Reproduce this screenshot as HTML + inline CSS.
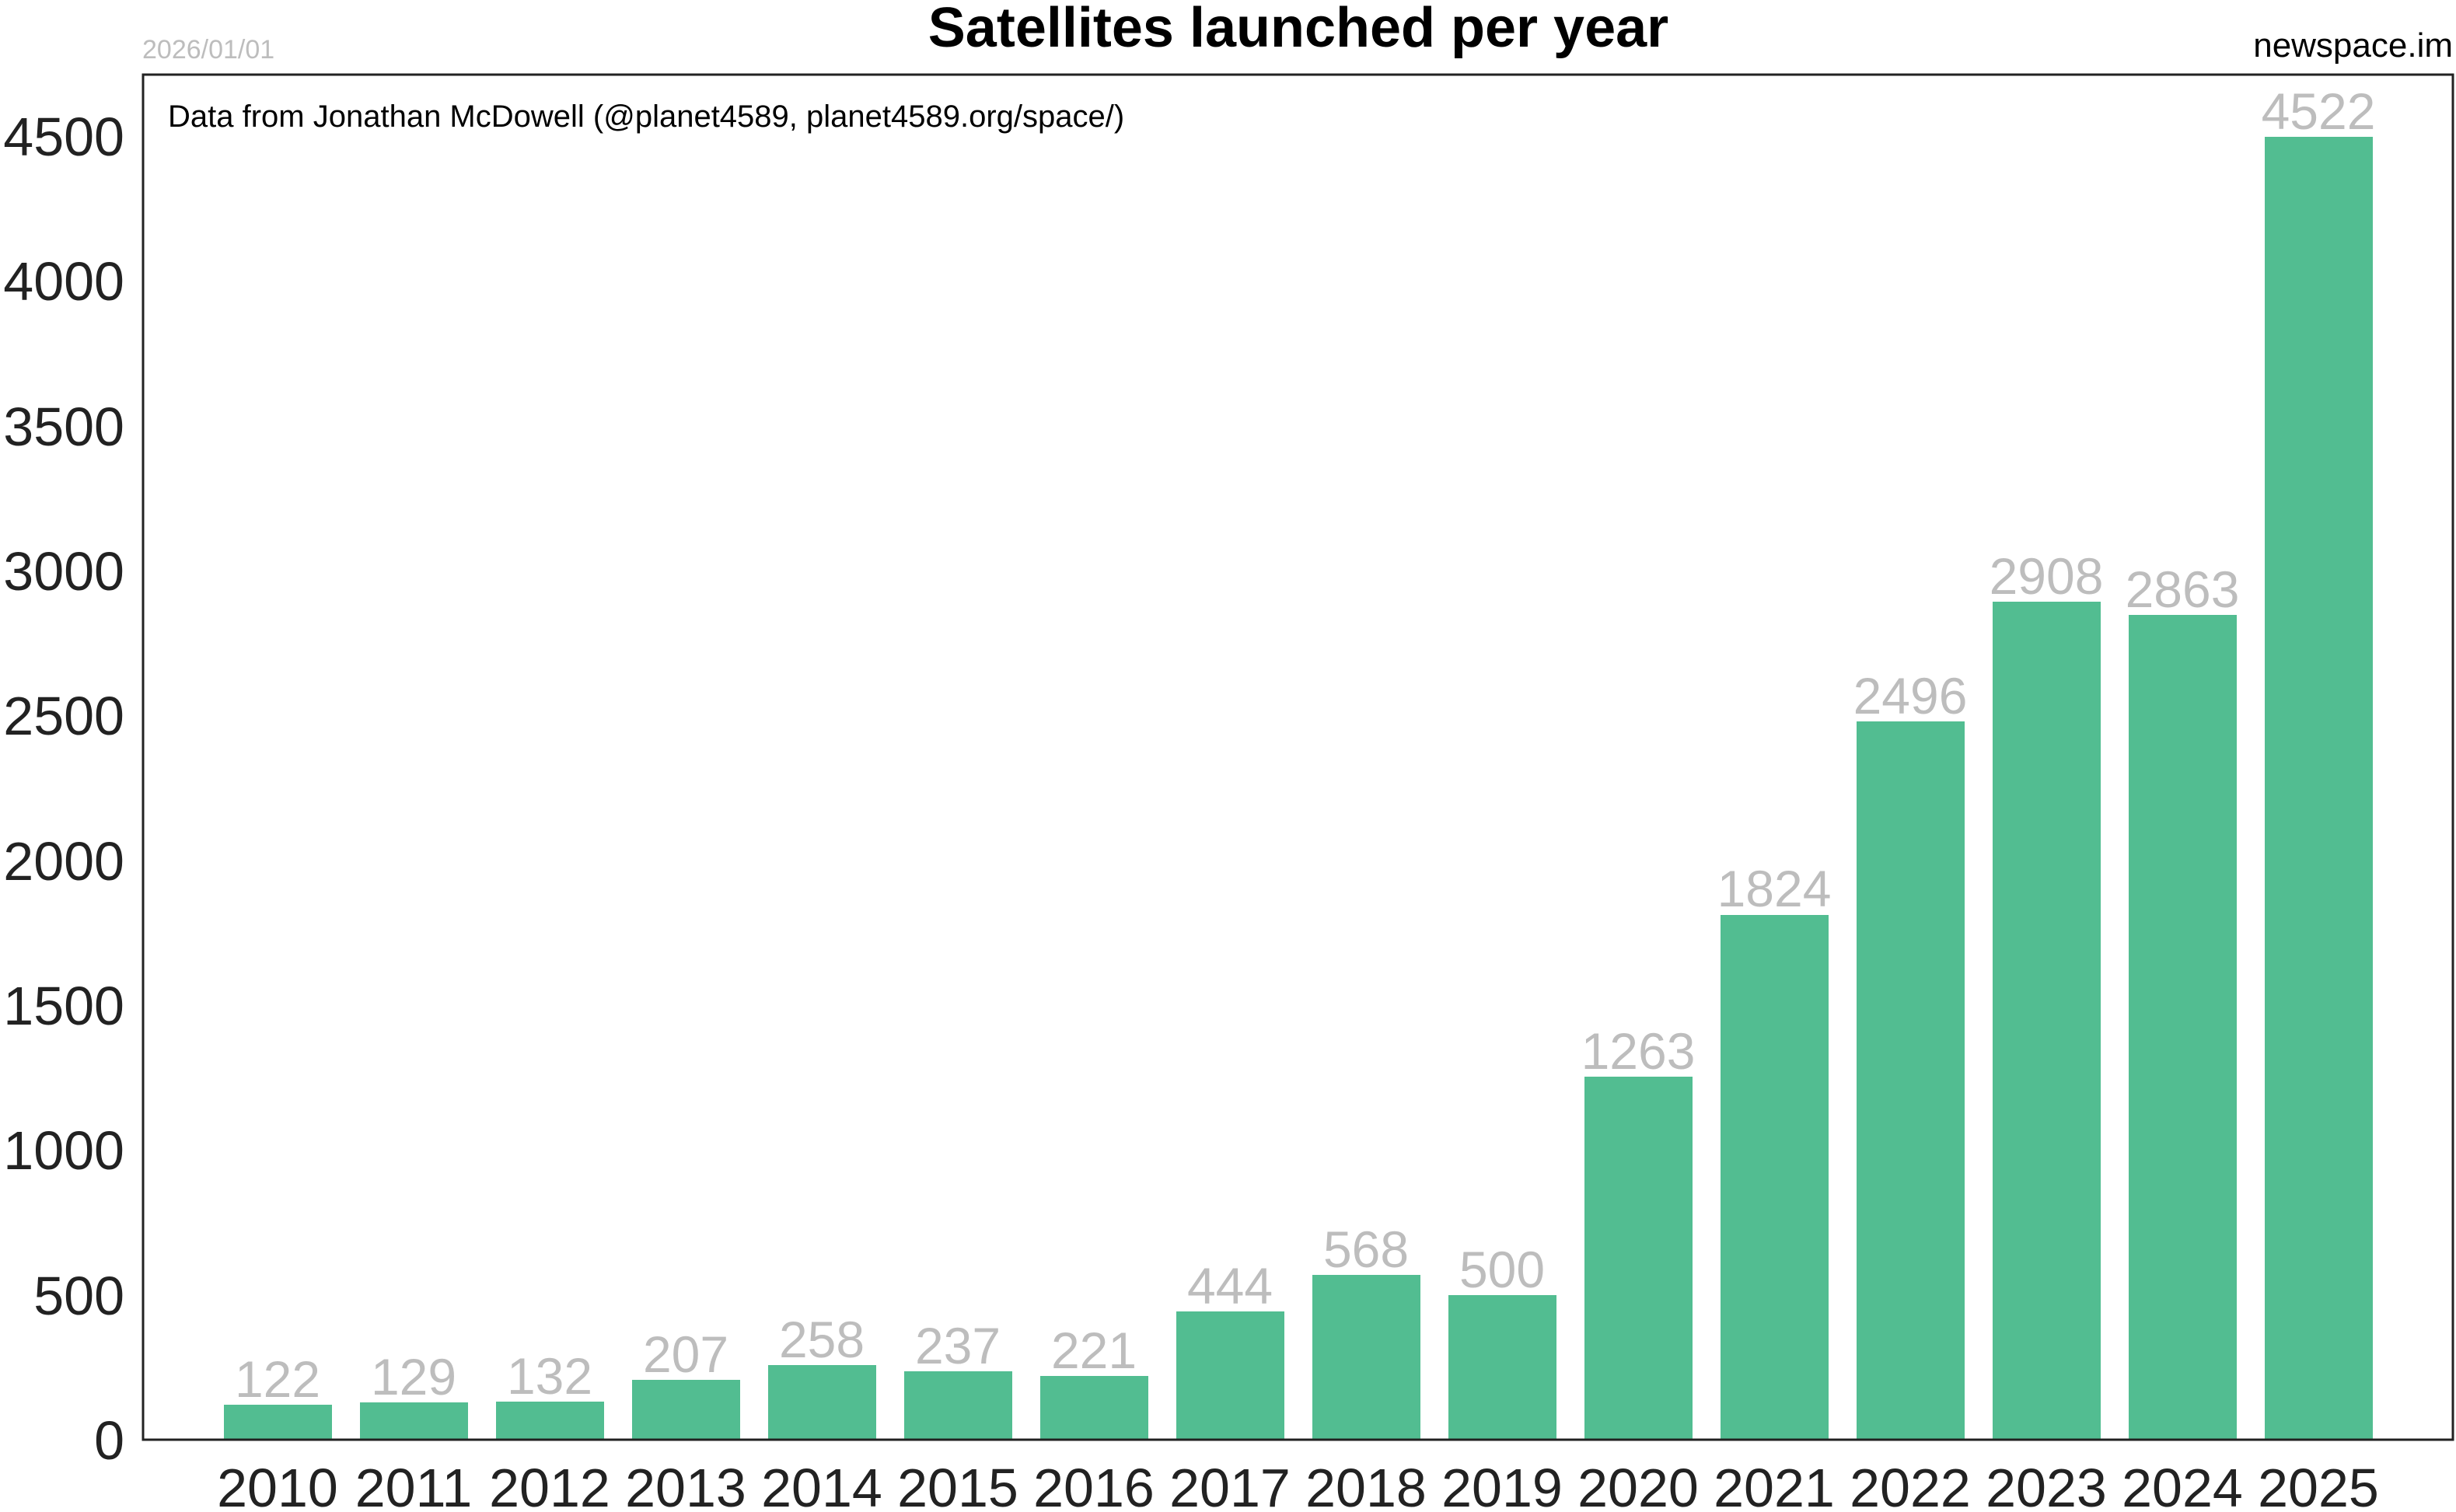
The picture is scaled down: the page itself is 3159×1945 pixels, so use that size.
<!DOCTYPE html>
<html><head><meta charset="utf-8"><style>html,body{margin:0;padding:0;background:#fff}</style></head>
<body>
<svg xmlns="http://www.w3.org/2000/svg" width="3159" height="1940" viewBox="0 0 3159 1940" font-family="'Liberation Sans', Arial, sans-serif">
<rect width="3159" height="1940" fill="#fff"/>
<text x="1670" y="60" font-size="72" font-weight="bold" text-anchor="middle" fill="#000">Satellites launched per year</text>
<text x="183" y="75" font-size="34" fill="#bdbdbd">2026/01/01</text>
<text x="3155" y="73" font-size="44" text-anchor="end" fill="#000">newspace.im</text>
<text x="216" y="163" font-size="40" fill="#000">Data from Jonathan McDowell (@planet4589, planet4589.org/space/)</text>
<g fill="#52bd91">
<rect x="288" y="1807" width="139" height="45"/>
<rect x="463" y="1804" width="139" height="48"/>
<rect x="638" y="1803" width="139" height="49"/>
<rect x="813" y="1775" width="139" height="77"/>
<rect x="988" y="1756" width="139" height="96"/>
<rect x="1163" y="1764" width="139" height="88"/>
<rect x="1338" y="1770" width="139" height="82"/>
<rect x="1513" y="1687" width="139" height="165"/>
<rect x="1688" y="1640" width="139" height="212"/>
<rect x="1863" y="1666" width="139" height="186"/>
<rect x="2038" y="1385" width="139" height="467"/>
<rect x="2213" y="1177" width="139" height="675"/>
<rect x="2388" y="928" width="139" height="924"/>
<rect x="2563" y="774" width="139" height="1078"/>
<rect x="2738" y="791" width="139" height="1061"/>
<rect x="2913" y="176" width="139" height="1676"/>
</g>
<g font-size="66" fill="#bdbdbd" text-anchor="middle">
<text x="357" y="1797">122</text>
<text x="532" y="1794">129</text>
<text x="707" y="1793">132</text>
<text x="882" y="1765">207</text>
<text x="1057" y="1746">258</text>
<text x="1232" y="1754">237</text>
<text x="1407" y="1760">221</text>
<text x="1582" y="1677">444</text>
<text x="1757" y="1630">568</text>
<text x="1932" y="1656">500</text>
<text x="2107" y="1375">1263</text>
<text x="2282" y="1166">1824</text>
<text x="2457" y="918">2496</text>
<text x="2632" y="764">2908</text>
<text x="2807" y="781">2863</text>
<text x="2982" y="166">4522</text>
</g>
<rect x="184" y="96" width="2971" height="1756" fill="none" stroke="#222" stroke-width="3"/>
<g font-size="70" fill="#222" text-anchor="end">
<text x="160" y="1877">0</text>
<text x="160" y="1691">500</text>
<text x="160" y="1504">1000</text>
<text x="160" y="1318">1500</text>
<text x="160" y="1132">2000</text>
<text x="160" y="945">2500</text>
<text x="160" y="759">3000</text>
<text x="160" y="573">3500</text>
<text x="160" y="386">4000</text>
<text x="160" y="200">4500</text>
</g>
<g font-size="70" fill="#222" text-anchor="middle">
<text x="357" y="1938">2010</text>
<text x="532" y="1938">2011</text>
<text x="707" y="1938">2012</text>
<text x="882" y="1938">2013</text>
<text x="1057" y="1938">2014</text>
<text x="1232" y="1938">2015</text>
<text x="1407" y="1938">2016</text>
<text x="1582" y="1938">2017</text>
<text x="1757" y="1938">2018</text>
<text x="1932" y="1938">2019</text>
<text x="2107" y="1938">2020</text>
<text x="2282" y="1938">2021</text>
<text x="2457" y="1938">2022</text>
<text x="2632" y="1938">2023</text>
<text x="2807" y="1938">2024</text>
<text x="2982" y="1938">2025</text>
</g>
</svg>
</body></html>
